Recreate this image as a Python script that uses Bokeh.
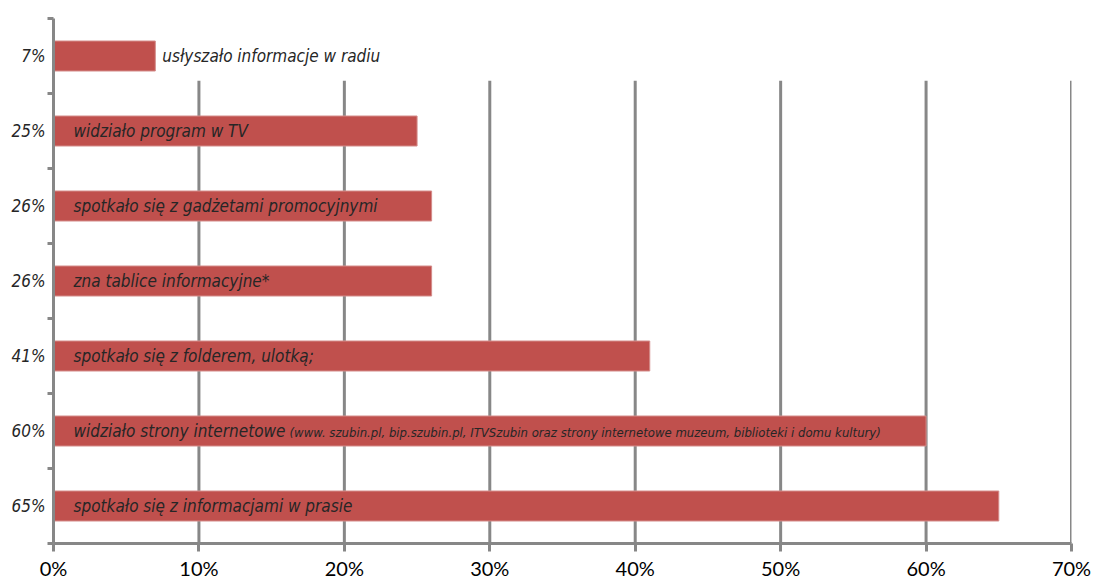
from bokeh.plotting import figure
from bokeh.models import Range1d, FixedTicker, ColumnDataSource
from bokeh.core.properties import value
from bokeh.embed import file_html
from bokeh.resources import INLINE

# ---- data ----
labels = [
    "usłyszało informacje w radiu",
    "widziało program w TV",
    "spotkało się z gadżetami promocyjnymi",
    "zna tablice informacyjne*",
    "spotkało się z folderem, ulotką;",
    "widziało strony internetowe",
    "spotkało się z informacjami w prasie",
]
values = [7, 25, 26, 26, 41, 60, 65]
pct_labels = ["7%", "25%", "26%", "26%", "41%", "60%", "65%"]
note_index = 5
note_text = "(www. szubin.pl, bip.szubin.pl,  ITVSzubin oraz strony internetowe  muzeum, biblioteki i  domu kultury)"
x_ticks = [0, 10, 20, 30, 40, 50, 60, 70]
x_tick_labels = ["0%", "10%", "20%", "30%", "40%", "50%", "60%", "70%"]

# ---- styles ----
BAR = "#C0504D"
GRID = "#878787"
NARROW = "DejaVu Sans Condensed, Roboto, sans-serif"
n = len(values)
idx = list(range(n))

inside = [v >= 20 for v in values]
src = ColumnDataSource(dict(
    y=idx, v=values, label=labels,
    lx=[0 if ins else v for ins, v in zip(inside, values)],
    off=[20 if ins else 7 for ins in inside],
))

p = figure(width=1096, height=582, output_backend="svg", toolbar_location=None,
           x_range=Range1d(0, 70), y_range=Range1d(n - 0.5, -0.5),
           min_border_left=53, min_border_right=25, min_border_top=18, min_border_bottom=39)
p.outline_line_color = None
p.xgrid.visible = False
p.ygrid.visible = False

# vertical grid lines (start just below the first category's bar)
grid_x = x_ticks[1:]
p.segment(x0=grid_x, x1=grid_x, y0=[n - 0.5] * len(grid_x), y1=[0.33] * len(grid_x),
          line_color=GRID, line_width=3)

p.hbar(y="y", left=0, right="v", height=0.4, source=src,
       fill_color=BAR, line_color="#D48C8A", line_width=1)

p.text(x="lx", y="y", text="label", source=src, x_offset="off",
       text_font=value(NARROW), text_font_style="italic", text_font_size="17px",
       text_baseline="middle", text_align="left", text_color="#262626")

p.text(x=[0], y=[idx[note_index]], text=[note_text], x_offset=236, y_offset=1,
       text_font=value(NARROW), text_font_style="italic", text_font_size="13px",
       text_baseline="middle", text_align="left", text_color="#262626")

# x axis
xa = p.xaxis[0]
xa.ticker = FixedTicker(ticks=x_ticks)
xa.major_label_overrides = {t: l for t, l in zip(x_ticks, x_tick_labels)}
xa.axis_line_color = GRID
xa.axis_line_width = 3
xa.major_tick_line_color = GRID
xa.major_tick_line_width = 3
xa.major_tick_out = 8
xa.major_tick_in = 0
xa.minor_tick_line_color = None
xa.major_label_standoff = 4
xa.axis_label_standoff = 0
xa.major_label_text_font = "Lato"
xa.major_label_text_font_size = "20px"
xa.major_label_text_color = "#000000"

# y axis
ya = p.yaxis[0]
ya.ticker = FixedTicker(ticks=idx, minor_ticks=[i - 0.5 for i in range(n + 1)])
ya.major_label_overrides = {i: l for i, l in zip(idx, pct_labels)}
ya.axis_line_color = GRID
ya.axis_line_width = 3
ya.major_tick_line_color = None
ya.major_tick_out = 0
ya.major_tick_in = 0
ya.minor_tick_line_color = GRID
ya.minor_tick_line_width = 3
ya.minor_tick_out = 6
ya.minor_tick_in = 0
ya.major_label_standoff = 2
ya.axis_label_standoff = 0
ya.major_label_text_font = NARROW
ya.major_label_text_font_style = "italic"
ya.major_label_text_font_size = "17px"
ya.major_label_text_color = "#262626"

open("out.html", "w").write(file_html(p, INLINE))
